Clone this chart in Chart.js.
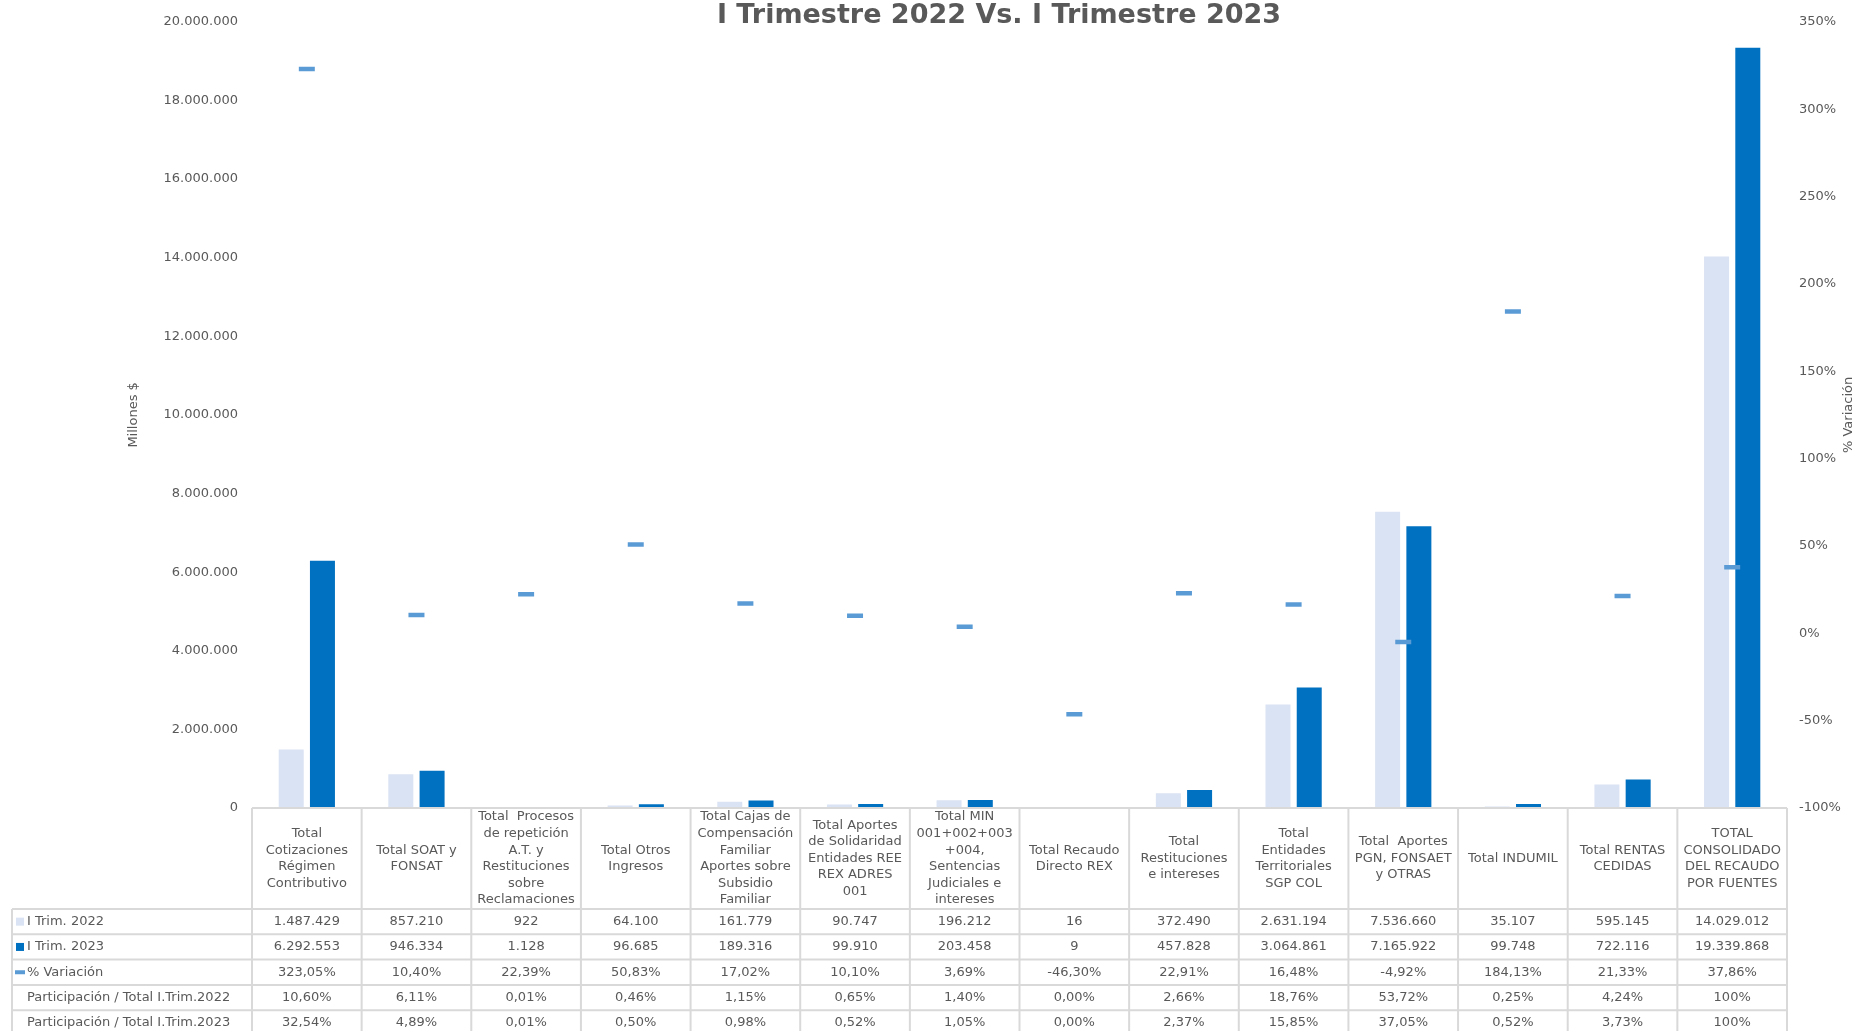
<!DOCTYPE html>
<html>
<head>
<meta charset="utf-8">
<title>I Trimestre 2022 Vs. I Trimestre 2023</title>
<script src="https://cdn.jsdelivr.net/npm/chart.js@4.4.1/dist/chart.umd.min.js"></script>
<style>
  html, body { margin: 0; padding: 0; background: #ffffff; overflow: hidden; }
  canvas { display: block; }
</style>
</head>
<body>
<canvas id="recaudo" width="1856" height="1031" style="width:1856px;height:1031px"></canvas>
<script>
// Fuentes de recaudo (cada entrada es una celda de encabezado, línea por línea)
const categories = [
  ['Total', 'Cotizaciones', 'Régimen', 'Contributivo'],
  ['Total SOAT y', 'FONSAT'],
  ['Total  Procesos', 'de repetición', 'A.T. y', 'Restituciones', 'sobre', 'Reclamaciones'],
  ['Total Otros', 'Ingresos'],
  ['Total Cajas de', 'Compensación', 'Familiar', 'Aportes sobre', 'Subsidio', 'Familiar'],
  ['Total Aportes', 'de Solidaridad', 'Entidades REE', 'REX ADRES', '001'],
  ['Total MIN', '001+002+003', '+004,', 'Sentencias', 'Judiciales e', 'intereses'],
  ['Total Recaudo', 'Directo REX'],
  ['Total', 'Restituciones', 'e intereses'],
  ['Total', 'Entidades', 'Territoriales', 'SGP COL'],
  ['Total  Aportes', 'PGN, FONSAET', 'y OTRAS'],
  ['Total INDUMIL'],
  ['Total RENTAS', 'CEDIDAS'],
  ['TOTAL', 'CONSOLIDADO', 'DEL RECAUDO', 'POR FUENTES']
];

// Millones de pesos
const trim2022 = [1487429, 857210, 922, 64100, 161779, 90747, 196212, 16, 372490, 2631194, 7536660, 35107, 595145, 14029012];
const trim2023 = [6292553, 946334, 1128, 96685, 189316, 99910, 203458, 9, 457828, 3064861, 7165922, 99748, 722116, 19339868];

// % de variación entre trimestres
const variacion = [323.05, 10.40, 22.39, 50.83, 17.02, 10.10, 3.69, -46.30, 22.91, 16.48, -4.92, 184.13, 21.33, 37.86];

// Participación sobre el total de cada trimestre (%)
const part2022 = [10.60, 6.11, 0.01, 0.46, 1.15, 0.65, 1.40, 0.00, 2.66, 18.76, 53.72, 0.25, 4.24, 100];
const part2023 = [32.54, 4.89, 0.01, 0.50, 0.98, 0.52, 1.05, 0.00, 2.37, 15.85, 37.05, 0.52, 3.73, 100];

// Rangos de los ejes
const montoAxis = [0, 20000000, 2000000];   // min, max, paso
const variacionAxis = [-100, 350, 50];      // min, max, paso

const FONT = '"DejaVu Sans", Verdana, Tahoma, sans-serif';
const TEXT = '#595959';
const GRID = '#d9d9d9';
const C2022 = '#dae3f3';
const C2023 = '#0070c0';
const CVAR = '#5b9bd5';

function fmtMiles(n) {
  return String(Math.round(n)).replace(/\B(?=(\d{3})+(?!\d))/g, '.');
}
function fmtPct(v) {
  return v.toFixed(2).replace('.', ',') + '%';
}
function fmtPart(v) {
  return v === 100 ? '100%' : fmtPct(v);
}

// Tabla de datos bajo el eje de categorías
const dataTable = {
  id: 'dataTable',
  afterDraw(chart) {
    const ctx = chart.ctx;
    const xs = chart.scales.x;
    const n = chart.data.labels.length;
    const colW = (xs.right - xs.left) / n;
    const top = chart.chartArea.bottom;
    const headerH = 101;
    const rowH = 25.3;
    const labelLeft = 12;
    const ds = chart.data.datasets;

    const rows = [
      { label: ds[1].label, swatch: 'box', color: ds[1].backgroundColor, values: trim2022.map(fmtMiles) },
      { label: ds[2].label, swatch: 'box', color: ds[2].backgroundColor, values: trim2023.map(fmtMiles) },
      { label: ds[0].label, swatch: 'dash', color: ds[0].pointBorderColor, values: variacion.map(fmtPct) },
      { label: 'Participación / Total I.Trim.2022', values: part2022.map(fmtPart) },
      { label: 'Participación / Total I.Trim.2023', values: part2023.map(fmtPart) }
    ];
    const tableBottom = top + headerH + rows.length * rowH;

    ctx.save();
    // rejilla
    ctx.strokeStyle = GRID;
    ctx.lineWidth = 2;
    ctx.beginPath();
    ctx.moveTo(xs.left, top);
    ctx.lineTo(xs.right, top);
    for (let r = 0; r <= rows.length; r++) {
      const y = top + headerH + r * rowH;
      ctx.moveTo(labelLeft, y);
      ctx.lineTo(xs.right, y);
    }
    ctx.moveTo(labelLeft, top + headerH);
    ctx.lineTo(labelLeft, tableBottom);
    for (let i = 0; i <= n; i++) {
      const x = xs.left + i * colW;
      ctx.moveTo(x, top);
      ctx.lineTo(x, tableBottom);
    }
    ctx.stroke();

    ctx.fillStyle = TEXT;
    ctx.font = '13px ' + FONT;
    ctx.textBaseline = 'middle';

    // encabezados de categoría
    const lineH = 16.6;
    ctx.textAlign = 'center';
    chart.data.labels.forEach((lines, i) => {
      const cx = xs.getPixelForValue(i);
      const y0 = top + headerH / 2 - (lines.length - 1) * lineH / 2;
      lines.forEach((t, k) => ctx.fillText(t, cx, y0 + k * lineH));
    });

    // filas
    rows.forEach((row, r) => {
      const cy = top + headerH + r * rowH + rowH / 2;
      if (row.swatch === 'box') {
        ctx.fillStyle = row.color;
        ctx.fillRect(16, cy - 4, 8, 8);
      } else if (row.swatch === 'dash') {
        ctx.fillStyle = row.color;
        ctx.fillRect(15, cy - 2, 10, 4);
      }
      ctx.fillStyle = TEXT;
      ctx.textAlign = 'left';
      ctx.fillText(row.label, 27, cy);
      ctx.textAlign = 'center';
      row.values.forEach((v, i) => ctx.fillText(v, xs.getPixelForValue(i), cy));
    });

    // título del eje secundario
    const y1 = chart.scales.y1;
    ctx.save();
    ctx.translate(1849, (y1.top + y1.bottom) / 2);
    ctx.rotate(-Math.PI / 2);
    ctx.textAlign = 'center';
    ctx.fillText('% Variación', 0, 0);
    ctx.restore();

    ctx.restore();
  }
};

new Chart(document.getElementById('recaudo'), {
  data: {
    labels: categories,
    datasets: [
      {
        type: 'line',
        label: '% Variación',
        data: variacion,
        yAxisID: 'y1',
        showLine: false,
        pointStyle: 'line',
        pointRadius: 8,
        pointHoverRadius: 8,
        pointBorderWidth: 4.5,
        pointHoverBorderWidth: 4.5,
        pointBorderColor: CVAR,
        pointBackgroundColor: CVAR,
        borderColor: CVAR,
        backgroundColor: CVAR,
        order: 0
      },
      {
        type: 'bar',
        label: 'I Trim. 2022',
        data: trim2022,
        yAxisID: 'y',
        backgroundColor: C2022,
        barPercentage: 0.8,
        categoryPercentage: 0.57,
        order: 1
      },
      {
        type: 'bar',
        label: 'I Trim. 2023',
        data: trim2023,
        yAxisID: 'y',
        backgroundColor: C2023,
        barPercentage: 0.8,
        categoryPercentage: 0.57,
        order: 1
      }
    ]
  },
  options: {
    responsive: false,
    animation: false,
    devicePixelRatio: 1,
    events: [],
    layout: { padding: { left: 142, top: 0, right: 0, bottom: 0 } },
    plugins: {
      legend: { display: false },
      tooltip: { enabled: false },
      title: {
        display: true,
        text: 'I Trimestre 2022 Vs. I Trimestre 2023',
        color: TEXT,
        font: { family: FONT, size: 27, weight: 'bold', lineHeight: 0.7 },
        padding: { top: 6, bottom: -4 }
      }
    },
    scales: {
      x: {
        type: 'category',
        offset: true,
        grid: { display: false, drawTicks: false },
        border: { display: false },
        ticks: { display: false },
        afterFit(scale) { scale.height = 223; }
      },
      y: {
        type: 'linear',
        position: 'left',
        min: montoAxis[0],
        max: montoAxis[1],
        grid: { display: false, drawTicks: false },
        border: { display: false },
        ticks: {
          stepSize: montoAxis[2],
          padding: 14,
          color: TEXT,
          font: { family: FONT, size: 13 },
          callback: v => fmtMiles(v)
        },
        title: {
          display: true,
          text: 'Millones $',
          color: TEXT,
          font: { family: FONT, size: 13 },
          padding: { top: -15.8, bottom: 0 }
        },
        afterFit(scale) { scale.width = 110; }
      },
      y1: {
        type: 'linear',
        position: 'right',
        min: variacionAxis[0],
        max: variacionAxis[1],
        grid: { display: false, drawTicks: false },
        border: { display: false },
        ticks: {
          stepSize: variacionAxis[2],
          padding: 12,
          color: TEXT,
          font: { family: FONT, size: 13 },
          callback: v => v + '%'
        },
        afterFit(scale) { scale.width = 69; }
      }
    }
  },
  plugins: [dataTable]
});
</script>
</body>
</html>
